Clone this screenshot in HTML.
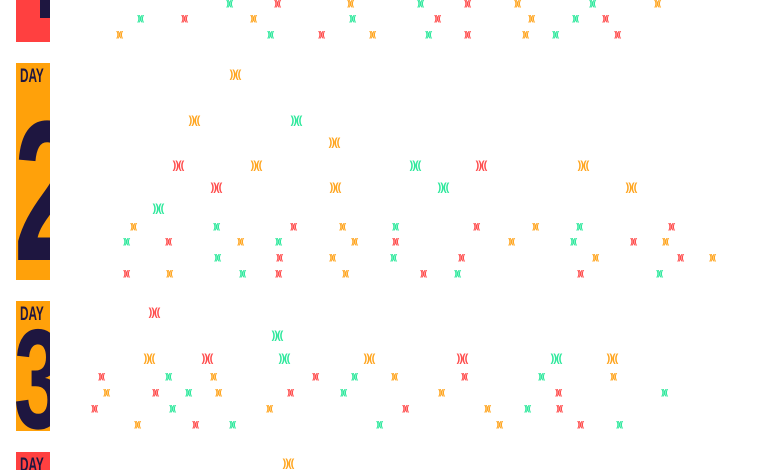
<!DOCTYPE html>
<html><head><meta charset="utf-8"><style>
html,body{margin:0;padding:0;background:#fff;width:770px;height:470px;overflow:hidden;position:relative;font-family:"Liberation Sans",sans-serif}
.bar{position:absolute;left:16px;width:34px;overflow:hidden}
.day{position:absolute;left:4px;top:3px;font:bold 19px "Liberation Sans",sans-serif;color:#1e1640;transform:scaleX(0.62);transform-origin:left top;letter-spacing:0}
.dig{position:absolute;font-weight:bold;font-family:"Liberation Sans",sans-serif;color:#1e1640;line-height:1;transform-origin:left top}
i{position:absolute;font-style:normal;font-weight:bold;line-height:1;white-space:nowrap;letter-spacing:-1px;transform:translate(-50%,-50%)}
i.s{font-size:8px;letter-spacing:-1.2px}
i.l{font-size:11px}
.r{color:#ff4d4d}.o{color:#ffa51f}.g{color:#2ee89c}
</style></head><body>
<div class="bar" style="top:0;height:42px;background:#ff4040"><div style="position:absolute;left:24px;top:0;width:10px;height:18px;background:#1e1640"></div></div>
<div class="bar" style="top:63px;height:217px;background:#ffa10a"><div class="day">DAY</div><div class="dig" style="left:-2px;top:29px;font-size:200px;transform:scaleX(0.6)">2</div></div>
<div class="bar" style="top:301px;height:130px;background:#ffa10a"><div class="day">DAY</div><div class="dig" style="left:-2px;top:8px;font-size:142px;transform:scaleX(0.62)">3</div></div>
<div class="bar" style="top:452px;height:18px;background:#ff4040"><div class="day">DAY</div></div>

<i class="s g" style="left:229px;top:4px">))((</i><i class="s r" style="left:277px;top:4px">))((</i><i class="s o" style="left:350px;top:4px">))((</i><i class="s g" style="left:420px;top:4px">))((</i><i class="s r" style="left:467px;top:4px">))((</i><i class="s o" style="left:517px;top:4px">))((</i><i class="s g" style="left:592px;top:4px">))((</i><i class="s o" style="left:657px;top:4px">))((</i>
<i class="s g" style="left:140px;top:19px">))((</i><i class="s r" style="left:184px;top:19px">))((</i><i class="s o" style="left:253px;top:19px">))((</i><i class="s g" style="left:352px;top:19px">))((</i><i class="s r" style="left:437px;top:19px">))((</i><i class="s o" style="left:531px;top:19px">))((</i><i class="s g" style="left:575px;top:19px">))((</i><i class="s r" style="left:605px;top:19px">))((</i>
<i class="s o" style="left:119px;top:35px">))((</i><i class="s g" style="left:270px;top:35px">))((</i><i class="s r" style="left:321px;top:35px">))((</i><i class="s o" style="left:372px;top:35px">))((</i><i class="s g" style="left:428px;top:35px">))((</i><i class="s r" style="left:467px;top:35px">))((</i><i class="s o" style="left:525px;top:35px">))((</i><i class="s g" style="left:555px;top:35px">))((</i><i class="s r" style="left:617px;top:35px">))((</i>

<i class="l o" style="left:235px;top:75px">))((</i>
<i class="l o" style="left:194px;top:121px">))((</i><i class="l g" style="left:296px;top:121px">))((</i>
<i class="l o" style="left:334px;top:143px">))((</i>
<i class="l r" style="left:178px;top:166px">))((</i><i class="l o" style="left:256px;top:166px">))((</i><i class="l g" style="left:415px;top:166px">))((</i><i class="l r" style="left:481px;top:166px">))((</i><i class="l o" style="left:583px;top:166px">))((</i>
<i class="l r" style="left:216px;top:188px">))((</i><i class="l o" style="left:335px;top:188px">))((</i><i class="l g" style="left:443px;top:188px">))((</i><i class="l o" style="left:631px;top:188px">))((</i>
<i class="l g" style="left:158px;top:209px">))((</i>

<i class="s o" style="left:133px;top:227px">))((</i><i class="s g" style="left:216px;top:227px">))((</i><i class="s r" style="left:293px;top:227px">))((</i><i class="s o" style="left:342px;top:227px">))((</i><i class="s g" style="left:395px;top:227px">))((</i><i class="s r" style="left:476px;top:227px">))((</i><i class="s o" style="left:535px;top:227px">))((</i><i class="s g" style="left:579px;top:227px">))((</i><i class="s r" style="left:671px;top:227px">))((</i>
<i class="s g" style="left:126px;top:242px">))((</i><i class="s r" style="left:168px;top:242px">))((</i><i class="s o" style="left:240px;top:242px">))((</i><i class="s g" style="left:278px;top:242px">))((</i><i class="s o" style="left:354px;top:242px">))((</i><i class="s r" style="left:395px;top:242px">))((</i><i class="s o" style="left:511px;top:242px">))((</i><i class="s g" style="left:573px;top:242px">))((</i><i class="s r" style="left:633px;top:242px">))((</i><i class="s o" style="left:665px;top:242px">))((</i>
<i class="s g" style="left:217px;top:258px">))((</i><i class="s r" style="left:279px;top:258px">))((</i><i class="s o" style="left:332px;top:258px">))((</i><i class="s g" style="left:393px;top:258px">))((</i><i class="s r" style="left:461px;top:258px">))((</i><i class="s o" style="left:595px;top:258px">))((</i><i class="s r" style="left:680px;top:258px">))((</i><i class="s o" style="left:712px;top:258px">))((</i>
<i class="s r" style="left:126px;top:274px">))((</i><i class="s o" style="left:169px;top:274px">))((</i><i class="s g" style="left:242px;top:274px">))((</i><i class="s r" style="left:278px;top:274px">))((</i><i class="s o" style="left:345px;top:274px">))((</i><i class="s r" style="left:423px;top:274px">))((</i><i class="s g" style="left:457px;top:274px">))((</i><i class="s r" style="left:580px;top:274px">))((</i><i class="s g" style="left:659px;top:274px">))((</i>

<i class="l r" style="left:154px;top:313px">))((</i>
<i class="l g" style="left:277px;top:336px">))((</i>
<i class="l o" style="left:149px;top:359px">))((</i><i class="l r" style="left:207px;top:359px">))((</i><i class="l g" style="left:284px;top:359px">))((</i><i class="l o" style="left:369px;top:359px">))((</i><i class="l r" style="left:462px;top:359px">))((</i><i class="l g" style="left:556px;top:359px">))((</i><i class="l o" style="left:612px;top:359px">))((</i>
<i class="s r" style="left:101px;top:377px">))((</i><i class="s g" style="left:168px;top:377px">))((</i><i class="s o" style="left:213px;top:377px">))((</i><i class="s r" style="left:315px;top:377px">))((</i><i class="s g" style="left:354px;top:377px">))((</i><i class="s o" style="left:394px;top:377px">))((</i><i class="s r" style="left:464px;top:377px">))((</i><i class="s g" style="left:541px;top:377px">))((</i><i class="s o" style="left:613px;top:377px">))((</i>
<i class="s o" style="left:106px;top:393px">))((</i><i class="s r" style="left:155px;top:393px">))((</i><i class="s g" style="left:188px;top:393px">))((</i><i class="s o" style="left:218px;top:393px">))((</i><i class="s r" style="left:290px;top:393px">))((</i><i class="s g" style="left:343px;top:393px">))((</i><i class="s o" style="left:441px;top:393px">))((</i><i class="s r" style="left:558px;top:393px">))((</i><i class="s g" style="left:664px;top:393px">))((</i>
<i class="s r" style="left:94px;top:409px">))((</i><i class="s g" style="left:172px;top:409px">))((</i><i class="s o" style="left:269px;top:409px">))((</i><i class="s r" style="left:405px;top:409px">))((</i><i class="s o" style="left:487px;top:409px">))((</i><i class="s g" style="left:527px;top:409px">))((</i><i class="s r" style="left:559px;top:409px">))((</i>
<i class="s o" style="left:137px;top:425px">))((</i><i class="s r" style="left:195px;top:425px">))((</i><i class="s g" style="left:232px;top:425px">))((</i><i class="s g" style="left:379px;top:425px">))((</i><i class="s o" style="left:499px;top:425px">))((</i><i class="s r" style="left:580px;top:425px">))((</i><i class="s g" style="left:619px;top:425px">))((</i>
<i class="l o" style="left:288px;top:464px">))((</i>
</body></html>
